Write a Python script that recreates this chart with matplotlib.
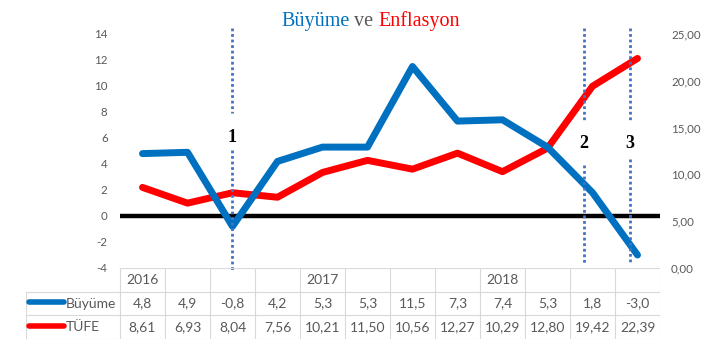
"""
Büyüme ve Enflasyon: çeyreklik büyüme (sol eksen) ve TÜFE (sağ eksen),
altında Excel tarzı veri tablosu.
"""

import matplotlib

matplotlib.use("Agg")
import matplotlib.pyplot as plt

# Veriler
years = ["2016", "", "", "", "2017", "", "", "", "2018", "", "", ""]
growth = [4.8, 4.9, -0.8, 4.2, 5.3, 5.3, 11.5, 7.3, 7.4, 5.3, 1.8, -3.0]
cpi = [8.61, 6.93, 8.04, 7.56, 10.21, 11.50, 10.56, 12.27, 10.29, 12.80, 19.42, 22.39]
growth_ticks = [-4, -2, 0, 2, 4, 6, 8, 10, 12, 14]
cpi_ticks = [0, 5, 10, 15, 20, 25]

# olay işaretleri (kategori ekseni üzerinde)
events = ["1", "2", "3"]
event_x = [1.99, 9.81, 10.83]

BLUE = "#0070C0"
RED = "#FF0000"
GRAY = "#595959"
GRID = "#D9D9D9"
DOT = "#4472C4"
SANS = "Lato"
SERIF = "Liberation Serif"

W, H = 724, 360
fig = plt.figure(figsize=(W / 100, H / 100), dpi=100)


def px(x0, y0, x1, y1):
    """Piksel kutusunu (sol-üst köşe referanslı) figür koordinatına çevirir."""
    return [x0 / W, (H - y1) / H, (x1 - x0) / W, (y1 - y0) / H]


n = len(growth)
xs = list(range(n))

ax = fig.add_axes(px(120, 34, 660, 268))
ax.set_xlim(-0.5, n - 0.5)
ax.set_ylim(growth_ticks[0], growth_ticks[-1])
ax2 = ax.twinx()
ax2.set_ylim(cpi_ticks[0], cpi_ticks[-1])

for a in (ax, ax2):
    for s in a.spines.values():
        s.set_visible(False)
    a.set_xticks([])
    a.tick_params(length=0, labelsize=8.3, labelcolor=GRAY)

ax.set_yticks(growth_ticks)
ax.set_yticklabels([str(v) for v in growth_ticks], fontfamily=SANS)
ax.tick_params(axis="y", pad=9)
ax2.set_yticks(cpi_ticks)
ax2.set_yticklabels([f"{v:.2f}".replace(".", ",") for v in cpi_ticks], fontfamily=SANS)
ax2.tick_params(axis="y", pad=8)

ax2.set_zorder(ax.get_zorder() - 1)
ax.patch.set_visible(False)

# sıfır çizgisi
ax2.axhline(
    (0 - growth_ticks[0]) / (growth_ticks[-1] - growth_ticks[0]) * cpi_ticks[-1],
    color="black", lw=3.2, zorder=1,
)
ax2.plot(xs, cpi, color=RED, lw=5, solid_capstyle="round", solid_joinstyle="round", zorder=3)
ax.plot(xs, growth, color=BLUE, lw=5, solid_capstyle="round", solid_joinstyle="round", zorder=4)

# dikey noktalı çizgiler ve numaralar
tops = [(14.46, 7.92, 5.08, -4.15), (14.46, 7.38, 3.92, -3.6), (14.46, 7.38, 4.38, -3.6)]
label_y = [6.0, 5.6, 5.6]
for lab, x, (a1, a2, b1, b2), ly in zip(events, event_x, tops, label_y):
    for y0, y1 in ((a1, a2), (b1, b2)):
        ax.plot([x, x], [y0, y1], color=DOT, lw=2, ls=(0, (1, 1)), zorder=6, clip_on=False)
    ax.text(x, ly, lab, ha="center", va="center", fontsize=13, fontweight="bold",
            fontfamily=SERIF, color="black", zorder=7)

# veri tablosu
tab = fig.add_axes(px(26, 268, 660, 339))
tab.set_xlim(-0.5 - 94 / 45, n - 0.5)
tab.set_ylim(3, 0)
tab.axis("off")
lx0 = -0.5 - 94 / 45
for r in range(4):
    x0 = -0.5 if r == 0 else lx0
    tab.plot([x0, n - 0.5], [r, r], color=GRID, lw=0.8)
for c in range(n + 1):
    tab.plot([c - 0.5, c - 0.5], [0, 3], color=GRID, lw=0.8)
tab.plot([lx0, lx0], [1, 3], color=GRID, lw=0.8)

tfont = dict(ha="center", va="center", fontsize=10, fontfamily=SANS, color=GRAY)
for i in xs:
    tab.text(i, 0.5, years[i], **tfont)
    tab.text(i, 1.5, f"{growth[i]:.1f}".replace(".", ","), **tfont)
    tab.text(i, 2.5, f"{cpi[i]:.2f}".replace(".", ","), **tfont)

key_x0 = lx0 + 3 / 45
key_x1 = lx0 + 38 / 45
for row, name, col in ((1.5, "Büyüme", BLUE), (2.5, "TÜFE", RED)):
    tab.plot([key_x0, key_x1], [row - 0.05, row - 0.05], color=col, lw=4, solid_capstyle="round")
    tab.text(key_x1 + 2 / 45, row, name, ha="left", va="center", fontsize=10,
             fontfamily=SANS, color=GRAY)

# başlık (üç renkli)
t1 = fig.text(281 / W, (H - 26) / H, "Büyüme", color=BLUE, fontsize=14.5,
              fontfamily=SERIF, va="baseline", ha="left")
t2 = ax.annotate(" ve ", xy=(1, 0), xycoords=t1, color=GRAY, fontsize=14.5,
                 fontfamily=SERIF, va="bottom", ha="left", annotation_clip=False)
ax.annotate("Enflasyon", xy=(1, 0), xycoords=t2, color=RED, fontsize=14.5,
            fontfamily=SERIF, va="bottom", ha="left", annotation_clip=False)

fig.savefig("out.png", dpi=100)
